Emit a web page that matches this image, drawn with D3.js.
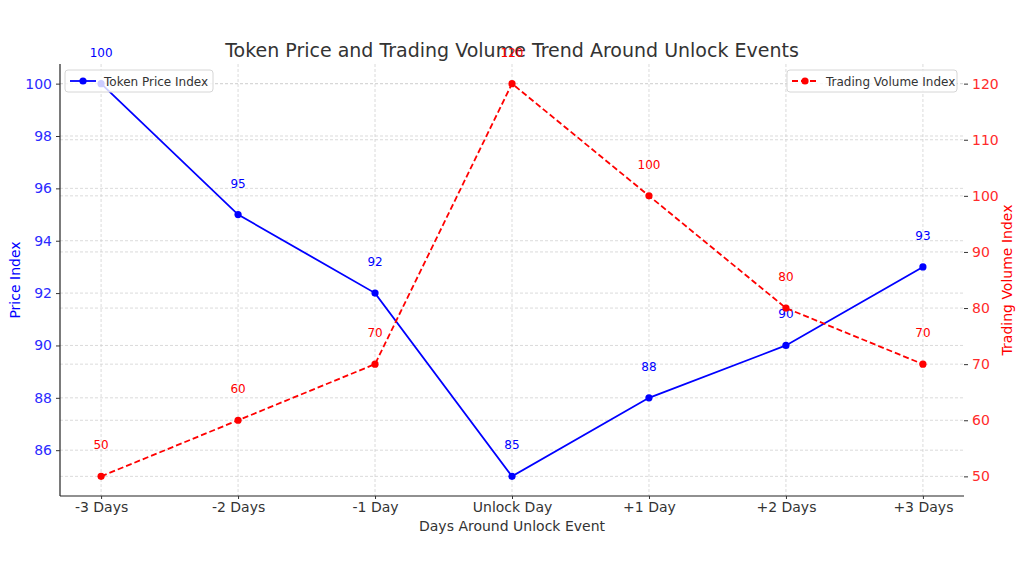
<!DOCTYPE html>
<html><head><meta charset="utf-8">
<script src="https://cdn.jsdelivr.net/npm/d3@7"></script>
<style>body{margin:0;background:#fff}svg{display:block;font-family:"DejaVu Sans",sans-serif}</style>
</head><body><svg id="c" width="1024" height="576"></svg>
<script>
const categories = ["-3 Days","-2 Days","-1 Day","Unlock Day","+1 Day","+2 Days","+3 Days"];
const priceIndex = [100,95,92,85,88,90,93];
const volumeIndex = [50,60,70,120,100,80,70];
const priceTicks = [86,88,90,92,94,96,98,100];
const volumeTicks = [50,60,70,80,90,100,110,120];

const svg = d3.select("#c");
const L=60,R=964,T=64,B=496;
// matplotlib margins 5% of data span
const xs = d3.scaleLinear().domain([-0.3,6.3]).range([L,R]);
const xp = c => xs(categories.indexOf(c));
const yL = d3.scaleLinear().domain([84.25,100.75]).range([B,T]);
const yR = d3.scaleLinear().domain([46.5,123.5]).range([B,T]);

const grid = svg.append("g").attr("stroke","#d2d2d2").attr("stroke-width",0.8).attr("stroke-dasharray","3,2");
categories.forEach(c=>grid.append("line").attr("x1",xp(c)).attr("x2",xp(c)).attr("y1",T).attr("y2",B));
priceTicks.forEach(t=>grid.append("line").attr("x1",L).attr("x2",R).attr("y1",yL(t)).attr("y2",yL(t)));
volumeTicks.forEach(t=>grid.append("line").attr("x1",L).attr("x2",R).attr("y1",yR(t)).attr("y2",yR(t)));

// axes
const axL = svg.append("g").attr("transform",`translate(${L},0)`).call(d3.axisLeft(yL).tickValues(priceTicks).tickSize(4).tickPadding(4));
axL.select(".domain").attr("stroke","#222").attr("stroke-width",1.2).attr("d",`M0,${T}V${B}`);
axL.selectAll("text").attr("fill","#2b2bff").style("font-size","14px").style("font-family","DejaVu Sans");
axL.selectAll(".tick line").attr("stroke","#333");

const axR = svg.append("g").attr("transform",`translate(${R},0)`).call(d3.axisRight(yR).tickValues(volumeTicks).tickSize(4).tickPadding(4));
axR.select(".domain").remove();
axR.selectAll("text").attr("fill","#ff2b2b").style("font-size","14px").style("font-family","DejaVu Sans");
axR.selectAll(".tick line").attr("stroke","#333");

const axB = svg.append("g").attr("transform",`translate(0,${B})`).call(d3.axisBottom(xs).tickValues(d3.range(categories.length)).tickFormat(i=>categories[i]).tickSize(3).tickPadding(3));
axB.select(".domain").attr("stroke","#222").attr("stroke-width",1.2).attr("d",`M${L},0H${R}`);
axB.selectAll("text").attr("fill","#333").style("font-size","14px").style("font-family","DejaVu Sans");
axB.selectAll(".tick line").attr("stroke","#333");

// labels
svg.append("text").attr("x",512).attr("y",57).attr("text-anchor","middle").attr("fill","#333").style("font-size","19px").text("Token Price and Trading Volume Trend Around Unlock Events");
svg.append("text").attr("x",512).attr("y",531).attr("text-anchor","middle").attr("fill","#333").style("font-size","14px").text("Days Around Unlock Event");
svg.append("text").attr("transform","translate(20,280) rotate(-90)").attr("text-anchor","middle").attr("fill","blue").style("font-size","14px").text("Price Index");
svg.append("text").attr("transform","translate(1012,280) rotate(-90)").attr("text-anchor","middle").attr("fill","red").style("font-size","14px").text("Trading Volume Index");

// price line
const lineP = d3.line().x((d,i)=>xp(categories[i])).y(d=>yL(d));
svg.append("path").datum(priceIndex).attr("d",lineP).attr("fill","none").attr("stroke","blue").attr("stroke-width",1.8);
svg.selectAll(".pp").data(priceIndex).join("circle").attr("cx",(d,i)=>xp(categories[i])).attr("cy",d=>yL(d)).attr("r",3.6).attr("fill","blue");
svg.selectAll(".pl").data(priceIndex).join("text").attr("x",(d,i)=>xp(categories[i])).attr("y",d=>yL(d)-27).attr("text-anchor","middle").attr("fill","blue").style("font-size","12px").text(d=>d);

// volume line
const lineV = d3.line().x((d,i)=>xp(categories[i])).y(d=>yR(d));
svg.append("path").datum(volumeIndex).attr("d",lineV).attr("fill","none").attr("stroke","red").attr("stroke-width",1.8).attr("stroke-dasharray","6,3");
svg.selectAll(".vp").data(volumeIndex).join("circle").attr("cx",(d,i)=>xp(categories[i])).attr("cy",d=>yR(d)).attr("r",3.6).attr("fill","red");
svg.selectAll(".vl").data(volumeIndex).join("text").attr("x",(d,i)=>xp(categories[i])).attr("y",d=>yR(d)-27).attr("text-anchor","middle").attr("fill","red").style("font-size","12px").text(d=>d);

// legends
function legend(x0,w,label,color,dash){
  const g=svg.append("g");
  g.append("rect").attr("x",x0).attr("y",70).attr("width",w).attr("height",22).attr("rx",3).attr("fill","white").attr("fill-opacity",0.8).attr("stroke","#d6d6d6");
  g.append("line").attr("x1",x0+5).attr("x2",x0+31).attr("y1",81).attr("y2",81).attr("stroke",color).attr("stroke-width",1.8).attr("stroke-dasharray",dash);
  g.append("circle").attr("cx",x0+18).attr("cy",81).attr("r",3.6).attr("fill",color);
  g.append("text").attr("x",x0+39).attr("y",85.5).attr("fill","#333").style("font-size","12px").text(label);
}
legend(65,148,"Token Price Index","blue",null);
legend(787,170,"Trading Volume Index","red","6,3");
</script></body></html>
